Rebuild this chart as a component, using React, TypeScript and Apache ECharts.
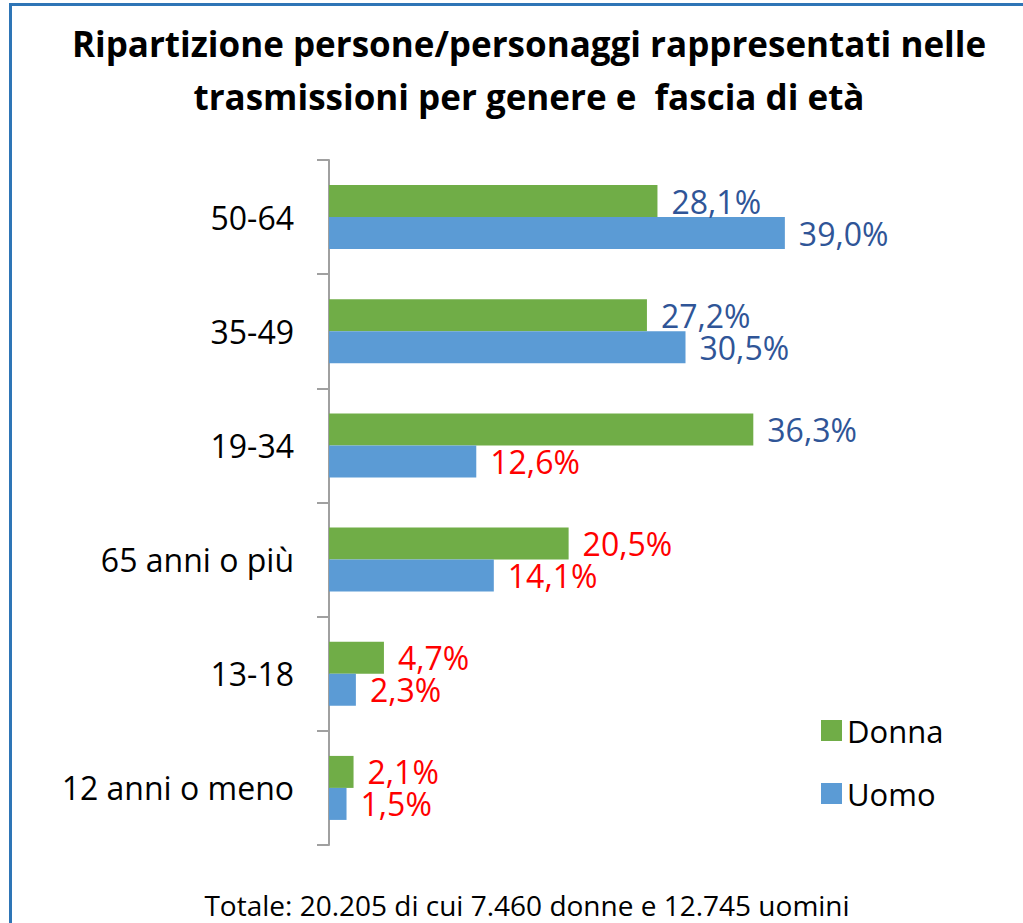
import React, { useEffect, useRef } from "react";
import * as echarts from "echarts";

const categories = ["50-64", "35-49", "19-34", "65 anni o più", "13-18", "12 anni o meno"];
const donnaValues = [28.1, 27.2, 36.3, 20.5, 4.7, 2.1];
const uomoValues = [39.0, 30.5, 12.6, 14.1, 2.3, 1.5];
const seriesNames = ["Donna", "Uomo"];
const titleText = "Ripartizione persone/personaggi rappresentati nelle\ntrasmissioni per genere e  fascia di età";
const footText = "Totale: 20.205 di cui 7.460 donne e 12.745 uomini";

const FONT = "'Open Sans', 'Noto Sans', sans-serif";
const GREEN = "#70AD47";
const BLUE = "#5B9BD5";
const LABEL_BLUE = "#2F5597";
const LABEL_RED = "#FF0000";

function fmt(v: number) {
  return v.toFixed(1).replace(".", ",") + "%";
}

function toData(values: number[]) {
  return values.map((v) => ({
    value: v,
    label: { color: v > 25 ? LABEL_BLUE : LABEL_RED },
  }));
}

export default function App() {
  const ref = useRef<HTMLDivElement>(null);
  useEffect(() => {
    if (!ref.current) return;
    const chart = echarts.init(ref.current, undefined, { renderer: "svg" });
    const labelCommon = {
      show: true,
      position: "right" as const,
      distance: 14,
      fontSize: 32,
      lineHeight: 30,
      fontFamily: FONT,
      formatter: (p: any) => fmt(p.value),
    };
    chart.setOption({
      animation: false,
      backgroundColor: "#ffffff",
      grid: { left: 329, top: 160, height: 685, width: 526, containLabel: false },
      xAxis: {
        type: "value",
        min: 0,
        max: 45,
        show: false,
        splitLine: { show: false },
      },
      yAxis: {
        type: "category",
        data: categories,
        inverse: true,
        axisLine: { show: true, lineStyle: { color: "#A0A0A0", width: 2 } },
        axisTick: { show: true, length: 12, inside: false, lineStyle: { color: "#A0A0A0", width: 2 } },
        axisLabel: { margin: 35, fontSize: 32, color: "#000000", fontFamily: FONT },
        splitLine: { show: false },
      },
      legend: {
        orient: "vertical",
        left: 816,
        top: 710,
        itemWidth: 21,
        itemHeight: 21,
        itemGap: 32,
        icon: "rect",
        data: seriesNames,
        textStyle: { fontSize: 31, color: "#000000", fontFamily: FONT },
      },
      series: [
        {
          name: seriesNames[0],
          type: "bar",
          data: toData(donnaValues),
          barWidth: 32,
          barGap: "0%",
          itemStyle: { color: GREEN },
          label: labelCommon,
        },
        {
          name: seriesNames[1],
          type: "bar",
          data: toData(uomoValues),
          barWidth: 32,
          barGap: "0%",
          itemStyle: { color: BLUE },
          label: labelCommon,
        },
      ],
      graphic: [
        {
          type: "rect",
          shape: { x: 10.5, y: 4.5, width: 1200, height: 1200 },
          style: { fill: "none", stroke: "#2E75B6", lineWidth: 3 },
          silent: true,
        },
        {
          type: "text",
          x: 529,
          y: 17,
          style: {
            text: titleText,
            align: "center",
            verticalAlign: "top",
            fontSize: 35,
            fontWeight: "bold",
            fontFamily: FONT,
            lineHeight: 53,
            fill: "#000000",
          },
        },
        {
          type: "text",
          x: 527,
          y: 905,
          style: {
            text: footText,
            align: "center",
            verticalAlign: "middle",
            fontSize: 28,
            fontFamily: FONT,
            fill: "#000000",
          },
        },
      ],
    });
    return () => chart.dispose();
  }, []);
  return (
    <div
      ref={ref}
      style={{ position: "fixed", left: 0, top: 0, width: 1023, height: 923, background: "#fff" }}
    />
  );
}
